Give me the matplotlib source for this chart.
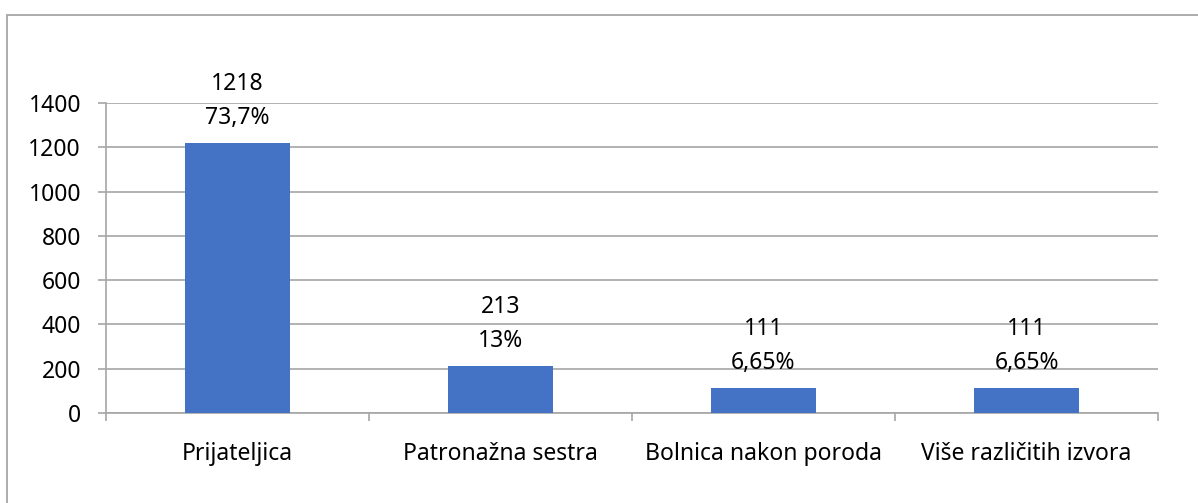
import matplotlib.pyplot as plt
from matplotlib.patches import Rectangle
from matplotlib.ticker import FixedLocator

categories = ['Prijateljica', 'Patronažna sestra', 'Bolnica nakon poroda', 'Više različitih izvora']
counts = [1218, 213, 111, 111]
percents = ['73,7%', '13%', '6,65%', '6,65%']

plt.rcParams['font.family'] = ['Noto Sans', 'DejaVu Sans']
plt.rcParams['font.size'] = 16.5

fig = plt.figure(figsize=(11.98, 5.03), dpi=100)
# outer chart border (runs off the right and bottom of the image)
fig.patches.append(Rectangle((7 / 1198, -0.05), 1.2, 1 - 14.5 / 503 + 0.05,
                             transform=fig.transFigure, fill=False,
                             edgecolor='#a6a6a6', linewidth=1.3))

ax = fig.add_axes([106 / 1198, 1 - 413 / 503, (1158 - 106) / 1198, 310 / 503])
x = range(len(categories))
ax.bar(x, counts, width=0.4, color='#4472C4', zorder=3)

ax.set_xlim(-0.5, len(categories) - 0.5)
ax.set_ylim(0, 1400)
ax.set_yticks(range(0, 1401, 200))
ax.yaxis.grid(True, color='#a6a6a6', linewidth=1.2, zorder=0)

for s in ['top', 'right']:
    ax.spines[s].set_visible(False)
for s in ['left', 'bottom']:
    ax.spines[s].set_color('#a6a6a6')
    ax.spines[s].set_linewidth(1.2)

ax.set_xticks(list(x))
ax.set_xticklabels(categories)
ax.xaxis.set_minor_locator(FixedLocator([i - 0.5 for i in range(len(categories) + 1)]))
ax.tick_params(axis='x', which='major', length=0, pad=21)
ax.tick_params(axis='x', which='minor', length=6, color='#a6a6a6', width=1.2)
ax.tick_params(axis='y', length=6, color='#a6a6a6', width=1.2, pad=12)

for i, (c, p) in enumerate(zip(counts, percents)):
    ax.annotate(str(c), (i, c), xytext=(0, 59), textcoords='offset pixels',
                ha='center', va='center')
    ax.annotate(p, (i, c), xytext=(0, 25), textcoords='offset pixels',
                ha='center', va='center')

fig.savefig('out.png', dpi=100)
